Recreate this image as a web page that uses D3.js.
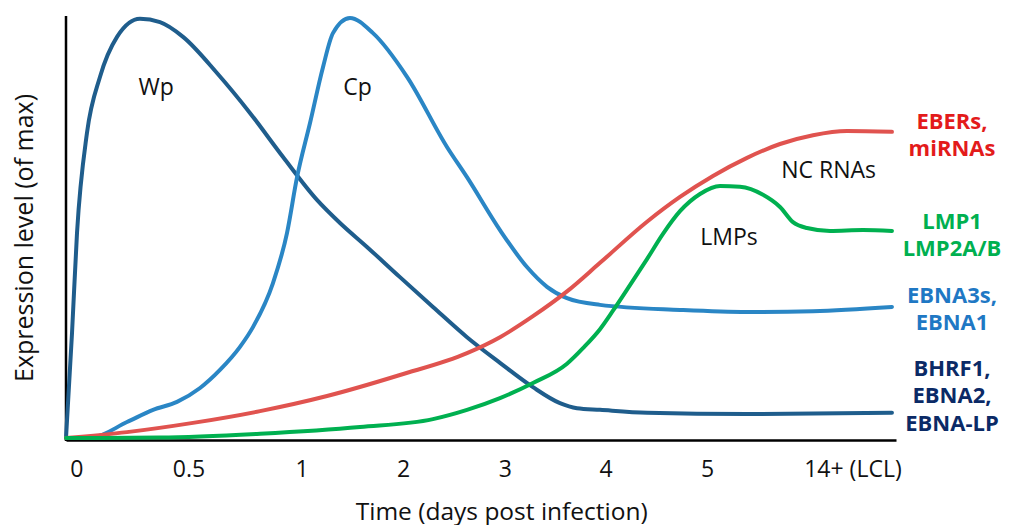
<!DOCTYPE html>
<html lang="en">
<head>
  <meta charset="UTF-8">
  <title>EBV latent gene expression after infection</title>
  <style>
    body { margin: 0; background: #fff; }
    svg { display: block; }
  </style>
</head>
<body>
  <div id="chart"></div>
  <script src="https://d3js.org/d3.v7.min.js"></script>
  <script>
    const SVGWIDTH = 1009;
    const SVGHEIGHT = 525;
    const FONT = '"Open Sans", "Noto Sans", sans-serif';

    // x is measured in tick steps along the axis, y is the fraction of max
    const xLabels = ['0', '0.5', '1', '2', '3', '4', '5', '14+ (LCL)'];
    const xTickPos = [0.1, 1.18, 2.27, 3.25, 4.23, 5.2, 6.18, 7.58];

    const wpX = [0, 0.058, 0.106, 0.202, 0.328, 0.492, 0.713, 0.906, 1.128, 1.455, 1.773, 2.092, 2.419, 2.641, 2.901, 3.219, 3.537, 3.865, 4.183, 4.501, 4.761, 4.925, 5.147, 5.6, 6.564, 7.961];
    const wpY = [0, 0.25, 0.488, 0.726, 0.86, 0.955, 0.998, 0.99, 0.955, 0.869, 0.774, 0.669, 0.567, 0.512, 0.455, 0.383, 0.312, 0.24, 0.179, 0.121, 0.083, 0.071, 0.067, 0.06, 0.057, 0.06];

    const cpX = [0, 0.26, 0.588, 0.839, 1.07, 1.292, 1.484, 1.677, 1.802, 1.995, 2.13, 2.227, 2.352, 2.477, 2.573, 2.737, 2.959, 3.287, 3.672, 3.865, 4.183, 4.443, 4.636, 4.829, 5.147, 5.918, 6.564, 7.2, 7.961];
    const cpY = [0, 0.002, 0.038, 0.067, 0.086, 0.119, 0.162, 0.217, 0.264, 0.369, 0.488, 0.621, 0.75, 0.883, 0.964, 1.0, 0.964, 0.86, 0.693, 0.621, 0.495, 0.407, 0.36, 0.333, 0.317, 0.305, 0.3, 0.302, 0.312];

    const ncX = [0, 0.588, 1.224, 1.87, 2.516, 3.219, 3.865, 4.183, 4.501, 4.829, 5.147, 5.6, 5.918, 6.236, 6.564, 6.882, 7.2, 7.528, 7.961];
    const ncY = [0, 0.014, 0.036, 0.064, 0.1, 0.15, 0.202, 0.24, 0.29, 0.349, 0.417, 0.515, 0.574, 0.624, 0.667, 0.7, 0.721, 0.731, 0.729];

    const lmpX = [0, 0.906, 1.87, 2.834, 3.537, 3.865, 4.183, 4.501, 4.829, 4.983, 5.147, 5.272, 5.436, 5.6, 5.754, 5.918, 6.111, 6.304, 6.496, 6.718, 6.882, 7.007, 7.142, 7.364, 7.682, 7.961];
    const lmpY = [0, 0.001, 0.01, 0.026, 0.045, 0.067, 0.095, 0.131, 0.177, 0.214, 0.259, 0.303, 0.364, 0.426, 0.486, 0.54, 0.581, 0.6, 0.598, 0.579, 0.55, 0.514, 0.5, 0.493, 0.495, 0.493];

    const seriesNames = ['Wp', 'Cp', 'NC RNAs', 'LMPs'];
    const seriesColors = ['#1f5d8c', '#2a86c5', '#e0534f', '#00b050'];

    // in-plot labels: [text, x, y] in data units
    const curveLabels = [['Wp', 0.87, 0.817], ['Cp', 2.81, 0.817], ['NC RNAs', 7.35, 0.62], ['LMPs', 6.39, 0.46]];

    // right-hand gene lists, top to bottom; y is where the middle baseline sits
    const geneGroups = [
      { lines: ['EBERs,', 'miRNAs'], color: '#e31b1b', y: 0.704 },
      { lines: ['LMP1', 'LMP2A/B'], color: '#00b050', y: 0.466 },
      { lines: ['EBNA3s,', 'EBNA1'], color: '#1f78c4', y: 0.289 },
      { lines: ['BHRF1,', 'EBNA2,', 'EBNA-LP'], color: '#0b2a66', y: 0.083 }
    ];

    const margin = { top: 18, right: 113, bottom: 87, left: 66 };
    const innerWidth = SVGWIDTH - margin.left - margin.right;
    const innerHeight = SVGHEIGHT - margin.top - margin.bottom;
    const LINE_GAP = 27.5;

    const xScale = d3.scaleLinear().domain([0, 8]).range([0, innerWidth]);
    const yScale = d3.scaleLinear().domain([0, 1]).range([innerHeight, 0]);

    const svg = d3.select('#chart')
      .append('svg')
      .attr('width', SVGWIDTH)
      .attr('height', SVGHEIGHT)
      .style('font-family', FONT);

    const mainCont = svg.append('g')
      .attr('transform', `translate(${margin.left},${margin.top})`);

    // series table built from the arrays
    const series = [
      { name: 'Wp', xs: wpX, ys: wpY },
      { name: 'Cp', xs: cpX, ys: cpY },
      { name: 'NC RNAs', xs: ncX, ys: ncY },
      { name: 'LMPs', xs: lmpX, ys: lmpY }
    ].map((s) => ({ name: s.name, points: s.xs.map((x, i) => [x, s.ys[i]]) }));

    const color = d3.scaleOrdinal().domain(seriesNames).range(seriesColors);

    const line = d3.line()
      .x((d) => xScale(d[0]))
      .y((d) => yScale(d[1]))
      .curve(d3.curveMonotoneX);

    // axes: plain black lines, no tick marks
    const xAxis = d3.axisBottom(xScale)
      .tickValues(xTickPos)
      .tickFormat((d, i) => xLabels[i])
      .tickSize(0)
      .tickPadding(21);
    const bottomAxisCont = mainCont.append('g')
      .attr('transform', `translate(0,${innerHeight + 2})`)
      .call(xAxis);
    bottomAxisCont.select('.domain')
      .attr('stroke', '#000')
      .attr('stroke-width', 2.5);
    bottomAxisCont.selectAll('text')
      .attr('font-family', FONT)
      .attr('font-size', '23px')
      .attr('fill', '#111');

    const yAxis = d3.axisLeft(yScale).tickValues([]).tickSize(0);
    const leftAxisCont = mainCont.append('g').call(yAxis);
    leftAxisCont.select('.domain')
      .attr('d', `M0,${yScale(1) - 2}V${innerHeight + 3}`)
      .attr('stroke', '#000')
      .attr('stroke-width', 2.5);

    // curves
    mainCont.selectAll('path.curve')
      .data(series)
      .enter()
      .append('path')
      .attr('class', 'curve')
      .attr('d', (d) => line(d.points))
      .attr('fill', 'none')
      .attr('stroke', (d) => color(d.name))
      .attr('stroke-width', 4)
      .attr('stroke-linecap', 'round')
      .attr('stroke-linejoin', 'round');

    // labels next to the curves
    mainCont.selectAll('text.curve-label')
      .data(curveLabels)
      .enter()
      .append('text')
      .attr('class', 'curve-label')
      .attr('x', (d) => xScale(d[1]))
      .attr('y', (d) => yScale(d[2]))
      .attr('text-anchor', 'middle')
      .attr('font-size', '23px')
      .attr('fill', '#111')
      .text((d) => d[0]);

    // gene lists at the right end of each curve
    const geneCont = mainCont.append('g');
    geneGroups.forEach((g) => {
      const n = g.lines.length;
      const t = geneCont.append('text')
        .attr('x', xScale(8) + 56)
        .attr('y', yScale(g.y))
        .attr('text-anchor', 'middle')
        .attr('font-size', '22px')
        .attr('font-weight', 'bold')
        .attr('fill', g.color);
      g.lines.forEach((l, i) => {
        t.append('tspan')
          .attr('x', xScale(8) + 56)
          .attr('dy', i === 0 ? -(n - 1) * LINE_GAP / 2 : LINE_GAP)
          .text(l);
      });
    });

    // axis titles
    svg.append('text')
      .attr('x', margin.left + xScale(4.2))
      .attr('y', SVGHEIGHT - 5)
      .attr('text-anchor', 'middle')
      .attr('font-size', '24.5px')
      .attr('fill', '#111')
      .text('Time (days post infection)');

    svg.append('text')
      .attr('transform', `translate(33,${margin.top + innerHeight / 2 + 10}) rotate(-90)`)
      .attr('text-anchor', 'middle')
      .attr('font-size', '25px')
      .attr('fill', '#111')
      .text('Expression level (of max)');
  </script>
</body>
</html>
